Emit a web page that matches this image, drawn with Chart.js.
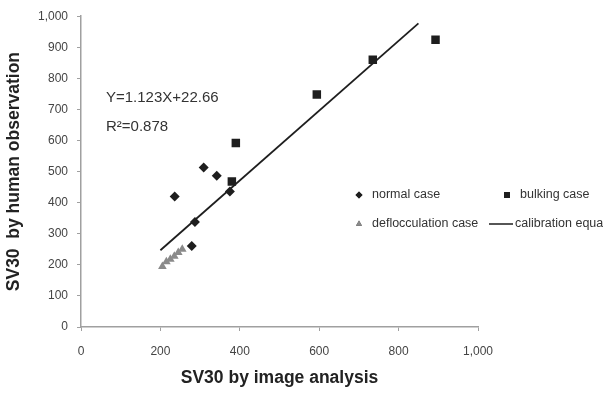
<!DOCTYPE html>
<html>
<head>
<meta charset="utf-8">
<script src="https://cdn.jsdelivr.net/npm/chart.js@4.4.1/dist/chart.umd.min.js"></script>
<style>
  html, body { margin: 0; padding: 0; background: #fff; }
  #wrap { width: 603px; height: 394px; }
</style>
</head>
<body>
<div id="wrap"><canvas id="chart" width="603" height="394"></canvas></div>
<script>
// values
const normalX = [236, 309, 342, 279, 287, 375];
const normalY = [420, 513, 487, 261, 338, 436];
const bulkingX = [390, 380, 594, 735, 893];
const bulkingY = [592, 468, 748, 860, 924];
const deflocX = [205, 215, 225, 235, 245, 255];
const deflocY = [195, 210, 218, 228, 240, 250];
const calibX = [200, 850];
const calibY = [247, 977];
const tickValues = [0, 100, 200, 300, 400, 500, 600, 700, 800, 900, 1000];
const xTickValues = [0, 200, 400, 600, 800, 1000];
const equationText = ['Y=1.123X+22.66', 'R\u00b2=0.878'];

const zip = (xs, ys) => xs.map((x, i) => ({ x: x, y: ys[i] }));
const fmt = v => v.toLocaleString('en-US');

const FONT = '"Liberation Sans", Arial, sans-serif';

// legend and equation text, drawn on top of the plot
const overlay = {
    id: 'overlay',
    afterDraw(chart) {
        const ctx = chart.ctx;
        const ds = chart.data.datasets;
        ctx.save();
        ctx.fillStyle = '#333';
        ctx.font = '15px ' + FONT;
        ctx.textBaseline = 'middle';
        ctx.fillText(equationText[0], 106, 98);
        ctx.fillText(equationText[1], 106, 127);

        ctx.font = '12.5px ' + FONT;
        const items = [
            { i: 0, x: 359, y: 195 },
            { i: 1, x: 507, y: 195 },
            { i: 2, x: 359, y: 224 },
            { i: 3, x: 502, y: 224 }
        ];
        items.forEach(it => {
            const d = ds[it.i];
            if (d.type === 'line') {
                ctx.strokeStyle = d.borderColor;
                ctx.lineWidth = 1.5;
                ctx.beginPath();
                ctx.moveTo(it.x - 13, it.y);
                ctx.lineTo(it.x + 11, it.y);
                ctx.stroke();
            } else {
                Chart.helpers.drawPoint(ctx, {
                    pointStyle: d.pointStyle,
                    radius: d.pointRadius * 0.7,
                    rotation: 0,
                    borderWidth: 0
                }, it.x, it.y);
                ctx.fillStyle = d.backgroundColor;
                ctx.fill();
            }
            ctx.fillStyle = '#333';
            ctx.fillText(d.label, it.x + 13, it.y);
        });
        ctx.restore();
    }
};

new Chart(document.getElementById('chart'), {
    type: 'scatter',
    data: {
        datasets: [
            {
                label: 'normal case',
                data: zip(normalX, normalY),
                pointStyle: 'rectRot',
                pointRadius: 5,
                backgroundColor: '#1e1e1e',
                borderWidth: 0
            },
            {
                label: 'bulking case',
                data: zip(bulkingX, bulkingY),
                pointStyle: 'rect',
                pointRadius: 6,
                backgroundColor: '#1e1e1e',
                borderWidth: 0
            },
            {
                label: 'deflocculation case',
                data: zip(deflocX, deflocY),
                pointStyle: 'triangle',
                pointRadius: 5,
                backgroundColor: '#8a8a8a',
                borderWidth: 0
            },
            {
                type: 'line',
                label: 'calibration equation',
                data: zip(calibX, calibY),
                borderColor: '#1e1e1e',
                borderWidth: 1.8,
                pointRadius: 0,
                fill: false
            }
        ]
    },
    options: {
        responsive: false,
        animation: false,
        layout: { padding: { top: 13, right: 125, left: 0, bottom: 0 } },
        plugins: {
            legend: { display: false },
            tooltip: { enabled: false }
        },
        scales: {
            x: {
                type: 'linear',
                min: 0,
                max: 1000,
                afterFit: s => { s.height = 67; },
                afterBuildTicks: s => { s.ticks = xTickValues.map(v => ({ value: v })); },
                ticks: {
                    callback: v => fmt(v),
                    color: '#444',
                    padding: 13,
                    font: { family: FONT, size: 12 },
                    maxRotation: 0
                },
                grid: { drawOnChartArea: false, tickLength: 4, color: '#a0a0a0' },
                border: { color: '#a0a0a0', width: 1.5 },
                title: {
                    display: true,
                    text: 'SV30 by image analysis',
                    color: '#222',
                    font: { family: FONT, size: 17.5, weight: 'bold' },
                    padding: { top: 4, bottom: 5 }
                }
            },
            y: {
                type: 'linear',
                min: 0,
                max: 1000,
                afterFit: s => { s.width = 81; },
                afterBuildTicks: s => { s.ticks = tickValues.map(v => ({ value: v })); },
                ticks: {
                    callback: v => fmt(v),
                    color: '#444',
                    padding: 9,
                    font: { family: FONT, size: 12 }
                },
                grid: { drawOnChartArea: false, tickLength: 4, color: '#a0a0a0' },
                border: { color: '#a0a0a0', width: 1.5 },
                title: {
                    display: true,
                    text: 'SV30  by human observation',
                    color: '#222',
                    font: { family: FONT, size: 17.5, weight: 'bold' },
                    padding: { top: 4, bottom: 4 }
                }
            }
        }
    },
    plugins: [overlay]
});
</script>
</body>
</html>
